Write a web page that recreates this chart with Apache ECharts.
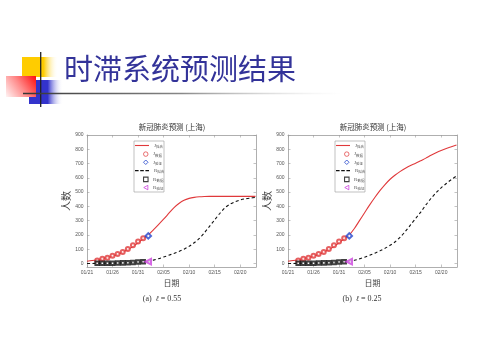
<!DOCTYPE html>
<html>
<head>
<meta charset="utf-8">
<script src="https://cdn.jsdelivr.net/npm/echarts@6/dist/echarts.min.js"></script>
<style>html,body{margin:0;padding:0;background:#fff;}#c{width:481px;height:360px;}</style>
</head>
<body>
<div id="c"></div>
<script>
// ---- data ----
const xTickDays = [0, 5, 10, 15, 20, 25, 30];
const xTickLabels = ['01/21', '01/26', '01/31', '02/05', '02/10', '02/15', '02/20'];
const yTicks = [0, 100, 200, 300, 400, 500, 600, 700, 800, 900];

const fitDays = [0,1,2,3,4,5,6,7,8,9,10,11,12,13,14,15,16,17,18,19,20,21,22,23,24,25,26,27,28,29,30,31,32,33];
// (a) l = 0.55
const jFitA = [15,20,26,33,41,51,63,78,97,119,145,173,200,235,272,310,350,390,420,443,456,463,467,469,470,470,470,470,470,470,470,470,470,470];
const rFitA = [0,0,1,1,2,2,3,4,5,6,8,10,14,23,33,45,57,70,84,100,120,145,175,215,260,305,350,390,415,432,445,453,458,462];
// (b) l = 0.25
const jFitB = [15,20,26,33,41,51,63,78,97,119,145,173,200,245,300,355,410,462,510,553,590,620,645,667,686,702,720,738,758,776,792,806,818,830];
const rFitB = [0,0,1,1,2,2,3,4,5,6,8,10,14,22,32,44,57,72,88,106,127,152,185,225,270,315,360,410,455,495,530,560,588,613];

const dataDays = [2,3,4,5,6,7,8,9,10,11];
const jData = [20,33,40,53,66,80,101,128,153,177];
const rData = [1,1,1,1,3,4,5,7,10,12];
const checkDay = [12];
const jCheck = [193];
const rCheck = [12];

const seriesNames = ['J拟合', 'J数据', 'J验证', 'R拟合', 'R数据', 'R验证'];

// ---- build ----
const pairs = (xs, ys) => xs.map((x, i) => [x, ys[i]]);
const tickColor = '#9a9a9a';
const lblColor = '#555';
const tickFont = 'Liberation Sans';
const C = { red: '#e0393b', blue: '#2244cc', black: '#111', magenta: '#cc44dd' };

function makeAxes(i) {
  return {
    x: [
      { gridIndex: i, type: 'value', min: 0, max: 33.1, position: 'bottom',
        axisLine: { show: true, onZero: false, lineStyle: { color: tickColor, width: 0.8 } },
        axisTick: { show: true, inside: true, length: 2.5, customValues: xTickDays, lineStyle: { color: tickColor, width: 0.6 } },
        axisLabel: { customValues: xTickDays, fontSize: 5, color: lblColor, margin: 3.5, fontFamily: tickFont,
          formatter: v => xTickLabels[xTickDays.indexOf(v)] || '' },
        splitLine: { show: false },
        name: '日期', nameLocation: 'middle', nameGap: 12,
        nameTextStyle: { fontSize: 8, color: '#444', fontFamily: 'Noto Sans CJK SC' } },
      { gridIndex: i, type: 'value', min: 0, max: 33.1, position: 'top',
        axisLine: { show: true, onZero: false, lineStyle: { color: tickColor, width: 0.8 } },
        axisTick: { show: true, inside: true, length: 2.5, customValues: xTickDays, lineStyle: { color: tickColor, width: 0.6 } },
        axisLabel: { show: false }, splitLine: { show: false } }
    ],
    y: [
      { gridIndex: i, type: 'value', min: -25, max: 900, position: 'left',
        axisLine: { show: true, onZero: false, lineStyle: { color: tickColor, width: 0.8 } },
        axisTick: { show: true, inside: true, length: 2.5, customValues: yTicks, lineStyle: { color: tickColor, width: 0.6 } },
        axisLabel: { customValues: yTicks, fontSize: 5, color: lblColor, margin: 3.5, fontFamily: tickFont },
        splitLine: { show: false },
        name: '人数', nameLocation: 'middle', nameGap: 13, nameRotate: 90,
        nameTextStyle: { fontSize: 10, color: '#444', fontFamily: 'Noto Sans CJK SC' } },
      { gridIndex: i, type: 'value', min: -25, max: 900, position: 'right',
        axisLine: { show: true, onZero: false, lineStyle: { color: tickColor, width: 0.8 } },
        axisTick: { show: true, inside: true, length: 2.5, customValues: yTicks, lineStyle: { color: tickColor, width: 0.6 } },
        axisLabel: { show: false }, splitLine: { show: false } }
    ]
  };
}

function makeSeries(i, jFit, rFit) {
  const ax = { xAxisIndex: i * 2, yAxisIndex: i * 2 };
  return [
    Object.assign({ name: seriesNames[0], type: 'line', data: pairs(fitDays, jFit), smooth: 0.3, symbol: 'none',
      lineStyle: { color: C.red, width: 1.1 }, itemStyle: { color: C.red }, z: 2 }, ax),
    Object.assign({ name: seriesNames[1], type: 'scatter', data: pairs(dataDays, jData), symbol: 'emptyCircle', symbolSize: 4,
      itemStyle: { color: C.red, borderWidth: 0.8 }, z: 3 }, ax),
    Object.assign({ name: seriesNames[2], type: 'scatter', data: pairs(checkDay, jCheck), symbol: 'emptyDiamond', symbolSize: 5.5,
      itemStyle: { color: C.blue, borderWidth: 1 }, z: 4 }, ax),
    Object.assign({ name: seriesNames[3], type: 'line', data: pairs(fitDays, rFit), smooth: 0.3, symbol: 'none',
      lineStyle: { color: C.black, width: 1.1, type: [3, 2.5] }, itemStyle: { color: C.black }, z: 2 }, ax),
    Object.assign({ name: seriesNames[4], type: 'scatter', data: pairs(dataDays, rData), symbol: 'emptyRect', symbolSize: 3.6,
      itemStyle: { color: C.black, borderWidth: 1.1 }, z: 3 }, ax),
    Object.assign({ name: seriesNames[5], type: 'scatter', data: pairs(checkDay, rCheck), symbol: 'emptyTriangle', symbolSize: 5.5, symbolRotate: 90,
      itemStyle: { color: C.magenta, borderWidth: 1 }, z: 4 }, ax)
  ];
}

const legendText = {
  color: '#555',
  rich: {
    m: { fontSize: 5, lineHeight: 6, fontFamily: 'Liberation Serif', color: '#555' },
    s: { fontSize: 3.5, lineHeight: 6, fontFamily: 'Noto Sans CJK SC', color: '#555', verticalAlign: 'bottom' }
  }
};
const legendFmt = n => '{m|' + n[0] + '}{s|' + n.slice(1) + '}';
const rowH = 8.4;
const lineIcon = 'path://M0,0h14v1.1h-14z';
const dashIcon = 'path://M0,0h3.6v1.3h-3.6zM5.2,0h3.6v1.3h-3.6zM10.4,0h3.6v1.3h-3.6z';
const leftTriIcon = 'path://M10,0L0,5.5L10,11Z';
const hollow = (col, bw) => ({ color: '#fff', borderColor: col, borderWidth: bw });

function makeLegends(boxLeft, boxTop) {
  const common = { orient: 'vertical', padding: 0, selectedMode: false, formatter: legendFmt,
    textStyle: legendText, itemGap: rowH - 6, z: 10 };
  const lineLeft = boxLeft + 1, symLeft = boxLeft + 9, t0 = boxTop + 2;
  return [
    Object.assign({ left: lineLeft, top: t0, itemWidth: 14, itemHeight: 6,
      data: [{ name: seriesNames[0], icon: lineIcon, itemStyle: { color: C.red, borderWidth: 0 } }] }, common),
    Object.assign({ left: symLeft, top: t0 + rowH, itemWidth: 4.5, itemHeight: 4.5,
      data: [
        { name: seriesNames[1], icon: 'circle', itemStyle: hollow(C.red, 0.9) },
        { name: seriesNames[2], icon: 'diamond', itemStyle: hollow(C.blue, 1) }
      ] }, common),
    Object.assign({ left: lineLeft, top: t0 + rowH * 3, itemWidth: 14, itemHeight: 6,
      data: [{ name: seriesNames[3], icon: dashIcon, itemStyle: { color: C.black, borderWidth: 0 } }] }, common),
    Object.assign({ left: symLeft, top: t0 + rowH * 4, itemWidth: 4.5, itemHeight: 4.5,
      data: [
        { name: seriesNames[4], icon: 'rect', itemStyle: hollow(C.black, 1.1) },
        { name: seriesNames[5], icon: leftTriIcon, itemStyle: hollow(C.magenta, 1) }
      ] }, common)
  ];
}

const axA = makeAxes(0), axB = makeAxes(1);

function legendBox(x, y) {
  return { type: 'rect', shape: { x: x, y: y, width: 30, height: 51 }, z: 9,
    style: { fill: '#fff', stroke: '#999', lineWidth: 0.6 } };
}

const option = {
  animation: false,
  backgroundColor: '#fff',
  grid: [
    { left: 87, top: 135, width: 169, height: 132, show: false },
    { left: 288, top: 135, width: 169, height: 132, show: false }
  ],
  xAxis: axA.x.concat(axB.x),
  yAxis: axA.y.concat(axB.y),
  legend: makeLegends(134, 141).concat(makeLegends(335, 141)),
  series: makeSeries(0, jFitA, rFitA).concat(makeSeries(1, jFitB, rFitB)),
  graphic: [
    // decorative squares
    { type: 'rect', shape: { x: 22, y: 57, width: 36, height: 20 }, z: 1,
      style: { fill: { type: 'linear', x: 0, y: 0, x2: 1, y2: 0,
        colorStops: [{ offset: 0, color: '#ffcc00' }, { offset: 0.6, color: '#ffcc00' }, { offset: 1, color: 'rgba(255,255,255,0)' }] } } },
    { type: 'rect', shape: { x: 29, y: 80, width: 34, height: 24 }, z: 2,
      style: { fill: { type: 'linear', x: 0, y: 0, x2: 1, y2: 0,
        colorStops: [{ offset: 0, color: '#3333cc' }, { offset: 0.55, color: '#3333cc' }, { offset: 1, color: 'rgba(255,255,255,0)' }] } } },
    { type: 'rect', shape: { x: 6, y: 76, width: 30, height: 21 }, z: 3,
      style: { fill: { type: 'linear', x: 1, y: 0, x2: 0, y2: 1,
        colorStops: [{ offset: 0, color: '#ff0d0d' }, { offset: 0.5, color: '#ff8a8a' }, { offset: 1, color: '#fff4f4' }] } } },
    { type: 'line', shape: { x1: 40.7, y1: 52, x2: 40.7, y2: 107 }, z: 4,
      style: { stroke: '#222', lineWidth: 1.3 } },
    { type: 'line', shape: { x1: 23, y1: 93.5, x2: 340, y2: 93.5 }, z: 4,
      style: { lineWidth: 1.4, stroke: { type: 'linear', x: 0, y: 0, x2: 1, y2: 0,
        colorStops: [{ offset: 0, color: '#333' }, { offset: 0.5, color: '#888' }, { offset: 1, color: 'rgba(220,220,220,0)' }] } } },
    { type: 'text', x: 64, y: 69, z: 5,
      style: { text: '时滞系统预测结果', font: '29px "Noto Sans CJK SC"', fill: '#333399', textVerticalAlign: 'middle' } },
    // legend boxes
    legendBox(134, 141),
    legendBox(335, 141),
    // chart titles
    { type: 'text', x: 172, y: 127.5, style: { text: '新冠肺炎预测 (上海)', font: '7.5px "Noto Sans CJK SC"', fill: '#333', textAlign: 'center', textVerticalAlign: 'middle' } },
    { type: 'text', x: 373, y: 127.5, style: { text: '新冠肺炎预测 (上海)', font: '7.5px "Noto Sans CJK SC"', fill: '#333', textAlign: 'center', textVerticalAlign: 'middle' } },
    // captions
    { type: 'text', x: 162, y: 299, style: { text: '(a)  {i|ℓ} = 0.55', font: '8px "Liberation Serif"', fill: '#333', textAlign: 'center', textVerticalAlign: 'middle',
      rich: { i: { fontFamily: 'DejaVu Serif', fontStyle: 'italic', fontSize: 7.5 } } } },
    { type: 'text', x: 362, y: 299, style: { text: '(b)  {i|ℓ} = 0.25', font: '8px "Liberation Serif"', fill: '#333', textAlign: 'center', textVerticalAlign: 'middle',
      rich: { i: { fontFamily: 'DejaVu Serif', fontStyle: 'italic', fontSize: 7.5 } } } }
  ]
};

const chart = echarts.init(document.getElementById('c'), null, { renderer: 'canvas' });
chart.setOption(option);
</script>
</body>
</html>
